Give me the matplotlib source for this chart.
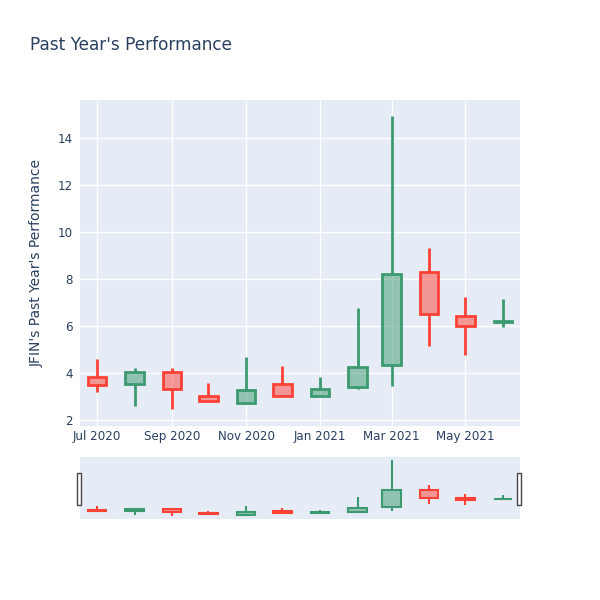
import matplotlib
matplotlib.use("Agg")
import matplotlib.pyplot as plt
import matplotlib.dates as mdates
from matplotlib.patches import Rectangle
import datetime as dt

# Monthly OHLC
months = ["2020-07-01", "2020-08-01", "2020-09-01", "2020-10-01", "2020-11-01", "2020-12-01",
          "2021-01-01", "2021-02-01", "2021-03-01", "2021-04-01", "2021-05-01", "2021-06-01"]
opens = [3.84, 3.52, 4.06, 3.03, 2.74, 3.52, 3.02, 3.39, 4.34, 8.31, 6.43, 6.16]
highs = [4.58, 4.23, 4.20, 3.56, 4.69, 4.31, 3.82, 6.75, 14.94, 9.31, 7.25, 7.13]
lows = [3.20, 2.60, 2.45, 2.75, 2.67, 3.02, 3.02, 3.33, 3.46, 5.16, 4.78, 5.97]
closes = [3.49, 4.06, 3.31, 2.80, 3.28, 3.02, 3.33, 4.27, 8.21, 6.52, 6.00, 6.20]

INC = "#3D9970"
DEC = "#FF4136"
BG = "#E5ECF6"
FONT = "#2a3f5f"

x = [mdates.date2num(dt.datetime.strptime(m, "%Y-%m-%d")) for m in months]


def draw_candles(ax, body_w, lw):
    for i in range(len(x)):
        up = closes[i] >= opens[i]
        col = INC if up else DEC
        top = max(opens[i], closes[i])
        bot = min(opens[i], closes[i])
        ax.vlines(x[i], top, highs[i], color=col, lw=lw, zorder=3)
        ax.vlines(x[i], lows[i], bot, color=col, lw=lw, zorder=3)
        ax.add_patch(Rectangle((x[i] - body_w / 2, bot), body_w, max(top - bot, 0.001),
                               facecolor=col, alpha=0.5, lw=0, zorder=3))
        ax.add_patch(Rectangle((x[i] - body_w / 2, bot), body_w, max(top - bot, 0.001),
                               facecolor="none", edgecolor=col, lw=lw, zorder=4))


fig = plt.figure(figsize=(6, 6), dpi=100)
xlo = mdates.date2num(dt.datetime(2020, 6, 17))
xhi = mdates.date2num(dt.datetime(2021, 6, 15))

# main chart
ax = fig.add_axes([80 / 600, 174 / 600, 440 / 600, 326 / 600])
ax.set_facecolor(BG)
for s in ax.spines.values():
    s.set_visible(False)
ax.grid(True, color="white", lw=1)
ax.set_axisbelow(True)
draw_candles(ax, 15, 2)
ax.set_xlim(xlo, xhi)
ax.set_ylim(1.745, 15.62)
ax.set_yticks([2, 4, 6, 8, 10, 12, 14])
ax.xaxis.set_major_locator(mdates.MonthLocator(bymonth=[1, 3, 5, 7, 9, 11]))
ax.xaxis.set_major_formatter(mdates.DateFormatter("%b %Y"))
ax.tick_params(length=0, labelsize=8.6, colors=FONT)
ax.tick_params(axis="x", pad=3)
ax.tick_params(axis="y", pad=5)
ax.set_ylabel("JFIN's Past Year's Performance", fontsize=10, color=FONT, labelpad=10)

fig.text(30 / 600, 1 - 45 / 600, "Past Year's Performance", fontsize=12.2, color=FONT, va="center")

# range slider
sl = fig.add_axes([80 / 600, 81 / 600, 440 / 600, 62 / 600])
sl.set_facecolor(BG)
for s in sl.spines.values():
    s.set_visible(False)
draw_candles(sl, 15, 1.5)
sl.set_xlim(xlo, xhi)
sl.set_ylim(1.745, 15.62)
sl.set_xticks([])
sl.set_yticks([])

# slider handles
for hx in [77, 517]:
    fig.patches.append(Rectangle((hx / 600, 95 / 600), 4 / 600, 32 / 600, transform=fig.transFigure,
                                 facecolor="white", edgecolor="#444444", lw=1))

fig.savefig("out.png", dpi=100)
